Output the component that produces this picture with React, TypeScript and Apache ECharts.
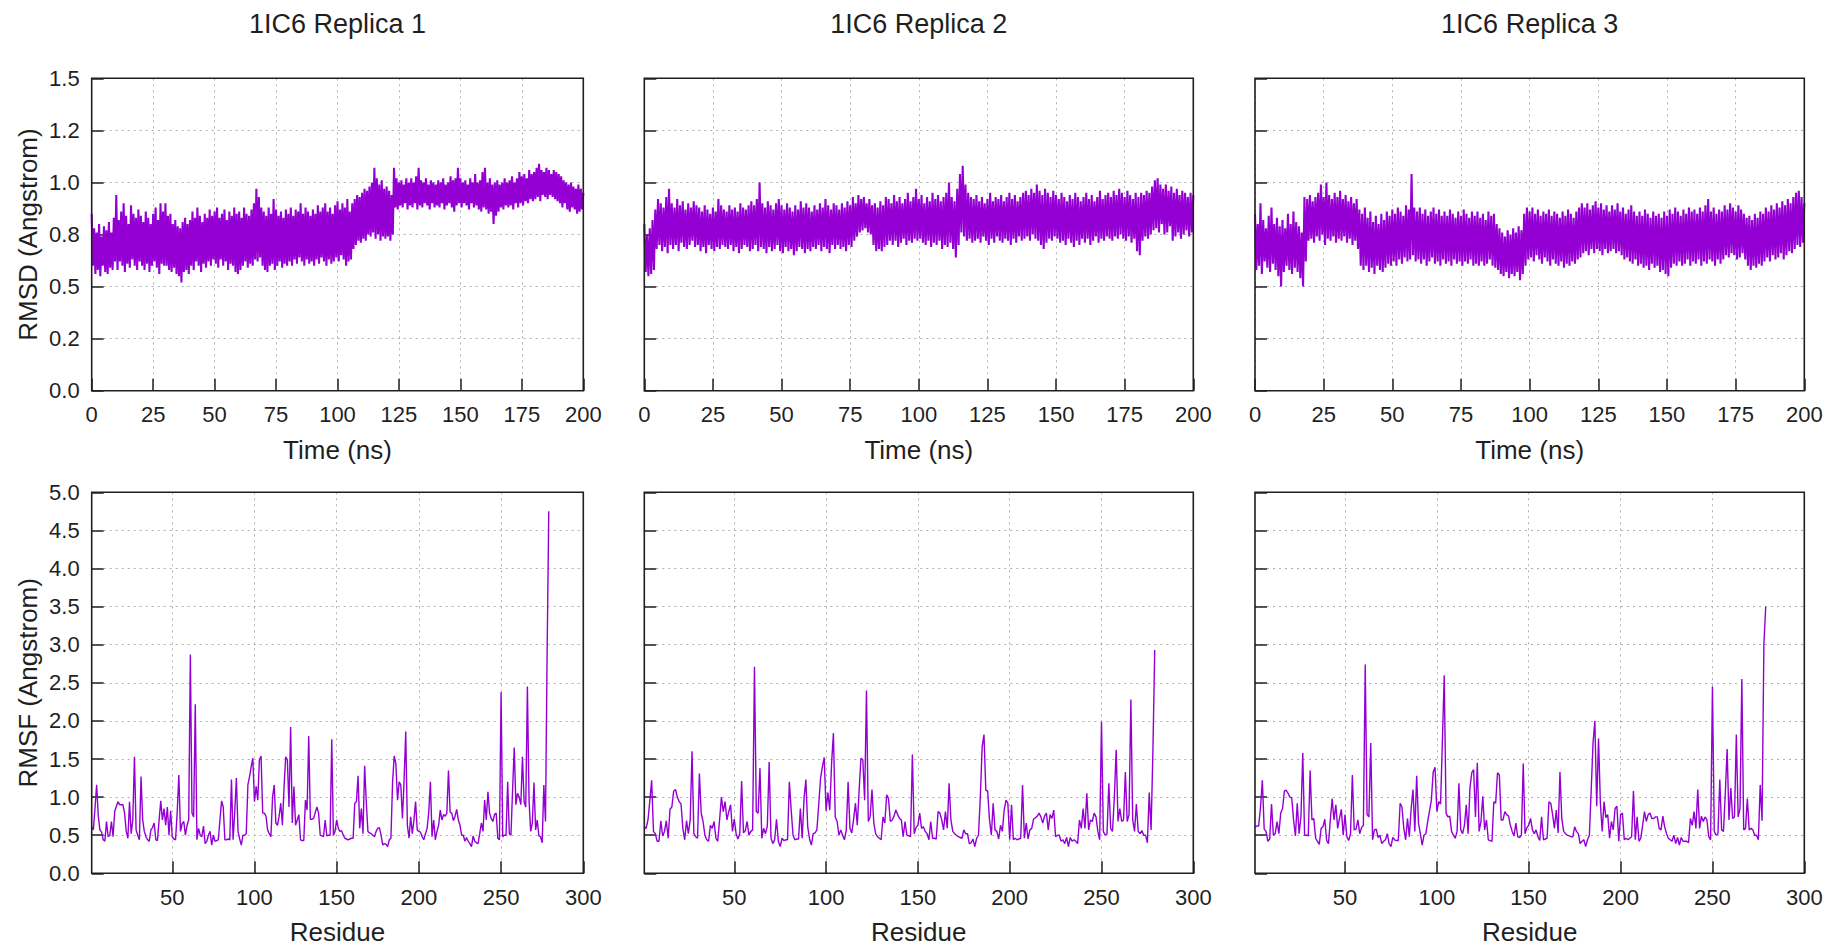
import React, { useEffect, useRef } from "react";
import * as echarts from "echarts";

// ---------- labels ----------
const REPLICAS = ["1IC6 Replica 1", "1IC6 Replica 2", "1IC6 Replica 3"];
const RMSD_Y_LABELS = ["0.0", "0.2", "0.5", "0.8", "1.0", "1.2", "1.5"];
const RMSF_X_TICKS = [50, 100, 150, 200, 250, 300];
const RMSD_Y_NAME = "RMSD (Angstrom)";
const RMSF_Y_NAME = "RMSF (Angstrom)";
const TIME_NAME = "Time (ns)";
const RES_NAME = "Residue";

// ---------- RMSD (Angstrom): per-ns upper extreme (t = 0..200) and lower extreme (t = 0.5..199.5) ----------
const rmsd1Hi = [
  0.85, 0.78, 0.76, 0.8, 0.74, 0.79, 0.77, 0.81, 0.76, 0.83,
  0.94, 0.82, 0.86, 0.9, 0.84, 0.8, 0.89, 0.85, 0.83, 0.87,
  0.84, 0.81, 0.86, 0.83, 0.8, 0.85, 0.88, 0.82, 0.9, 0.86,
  0.9, 0.84, 0.85, 0.8, 0.82, 0.79, 0.78, 0.81, 0.83, 0.8,
  0.82, 0.86, 0.83, 0.88, 0.84, 0.81, 0.85, 0.83, 0.87, 0.84,
  0.86, 0.88, 0.83, 0.85, 0.87, 0.82, 0.86, 0.84, 0.88, 0.85,
  0.86, 0.83, 0.88, 0.85, 0.84, 0.87, 0.9, 0.97, 0.93, 0.88,
  0.86, 0.84, 0.88, 0.85, 0.92, 0.87, 0.84, 0.86, 0.83, 0.87,
  0.85, 0.88, 0.84, 0.87, 0.86, 0.9, 0.85, 0.88, 0.86, 0.84,
  0.87, 0.85, 0.89, 0.86, 0.88, 0.9, 0.86, 0.88, 0.85, 0.89,
  0.91, 0.87, 0.9, 0.88, 0.92, 0.86, 0.9, 0.92, 0.94, 0.93,
  0.95, 0.97, 0.96, 0.98, 1.0, 1.07, 1.02, 0.99, 1.01, 0.97,
  0.98, 0.96, 0.94, 1.07, 1.02, 1.0, 1.01, 0.99, 1.02, 1.0,
  1.02, 1.0, 1.03, 1.07, 1.01, 1.0, 1.02, 0.99, 1.01, 1.0,
  0.99, 1.01, 1.0, 1.02, 0.99, 1.0, 1.03, 1.01, 1.02, 1.07,
  1.02, 1.0, 1.01, 0.99, 1.02, 1.0, 1.04, 1.0, 1.01, 1.05,
  1.07, 1.0, 1.02, 0.99, 1.0, 1.01, 0.99, 1.0, 1.02, 1.0,
  1.01, 1.03, 1.0, 1.02, 1.05, 1.03, 1.04, 1.02, 1.06, 1.04,
  1.05, 1.07, 1.09, 1.06, 1.05, 1.07, 1.06, 1.04, 1.06, 1.05,
  1.04, 1.03, 1.01, 1.0, 0.99, 1.0, 0.98, 0.97, 0.99, 0.97, 0.95,
];
const rmsd1Lo = [
  0.6, 0.56, 0.58, 0.55, 0.6, 0.57, 0.56, 0.59, 0.58, 0.62,
  0.58, 0.62, 0.6, 0.57, 0.61, 0.59, 0.63, 0.6, 0.58, 0.62,
  0.6, 0.58, 0.61, 0.57, 0.6, 0.62, 0.59, 0.56, 0.61, 0.6,
  0.6, 0.58, 0.57, 0.59, 0.56, 0.55, 0.52, 0.57, 0.58, 0.56,
  0.6, 0.58, 0.62, 0.6, 0.57, 0.61, 0.59, 0.62, 0.6, 0.63,
  0.61, 0.59, 0.63, 0.6, 0.62, 0.58, 0.61, 0.6, 0.57, 0.56,
  0.58, 0.6, 0.62, 0.59, 0.61, 0.6, 0.63, 0.62, 0.64, 0.6,
  0.58, 0.57, 0.6, 0.61, 0.58, 0.6, 0.62, 0.59, 0.61, 0.6,
  0.62, 0.6, 0.63, 0.61, 0.64, 0.62, 0.6, 0.63, 0.61, 0.62,
  0.6, 0.63, 0.61, 0.64, 0.62, 0.6, 0.63, 0.61, 0.62, 0.64,
  0.62, 0.65, 0.63, 0.6, 0.62, 0.63, 0.68, 0.7, 0.72, 0.71,
  0.73, 0.72, 0.75, 0.74, 0.76, 0.73, 0.75, 0.72, 0.74, 0.73,
  0.74, 0.72, 0.75, 0.88, 0.87, 0.89, 0.88, 0.9, 0.87, 0.89,
  0.88, 0.9, 0.87, 0.89, 0.88, 0.9, 0.89, 0.87, 0.9, 0.88,
  0.89, 0.88, 0.9, 0.87, 0.89, 0.9, 0.88, 0.86, 0.89, 0.9,
  0.88, 0.9, 0.89, 0.87, 0.9, 0.88, 0.89, 0.87, 0.86, 0.88,
  0.87, 0.85, 0.86, 0.8, 0.84, 0.86, 0.88, 0.87, 0.89, 0.88,
  0.89, 0.87, 0.9, 0.88, 0.9, 0.89, 0.91, 0.9, 0.92, 0.91,
  0.92, 0.93, 0.91, 0.94, 0.93, 0.92, 0.94, 0.93, 0.92, 0.91,
  0.9, 0.88, 0.9, 0.87, 0.86, 0.88, 0.87, 0.85, 0.86, 0.87,
];
const rmsd2Hi = [
  0.8, 0.75, 0.78, 0.82, 0.87, 0.92, 0.9, 0.88, 0.93, 0.97,
  0.9, 0.88, 0.92, 0.89, 0.91, 0.87, 0.9, 0.88, 0.91, 0.89,
  0.88, 0.86, 0.89, 0.87, 0.85, 0.88, 0.86, 0.92, 0.89, 0.87,
  0.86, 0.89, 0.87, 0.88, 0.86, 0.9, 0.88, 0.87, 0.89, 0.91,
  0.89, 0.92, 1.0, 0.9, 0.88, 0.91, 0.89, 0.87, 0.9, 0.92,
  0.89, 0.87, 0.9, 0.88, 0.86, 0.89, 0.87, 0.91, 0.88, 0.9,
  0.88, 0.86, 0.89, 0.87, 0.9, 0.88, 0.92, 0.89, 0.87, 0.9,
  0.89, 0.87, 0.9, 0.88, 0.91, 0.89, 0.93, 0.9, 0.94, 0.92,
  0.93, 0.9, 0.92, 0.89, 0.9, 0.88, 0.91, 0.89, 0.93, 0.92,
  0.9, 0.94, 0.91, 0.93, 0.9, 0.92, 0.95, 0.91, 0.93, 0.97,
  0.92, 0.94, 0.9, 0.93, 0.91, 0.95, 0.92, 0.94, 0.91, 0.93,
  0.95, 1.0, 0.93, 0.91, 0.97, 1.04, 1.08, 0.99, 0.95, 0.93,
  0.92, 0.94, 0.91, 0.93, 0.9, 0.92, 0.95, 0.91, 0.93, 0.92,
  0.94, 0.91, 0.93, 0.95, 0.92, 0.94, 0.91, 0.93, 0.95, 0.96,
  0.94, 0.97, 0.95, 0.99, 0.96, 0.94, 0.97, 0.95, 0.93, 0.96,
  0.94, 0.92, 0.95, 0.93, 0.91, 0.94, 0.92, 0.95, 0.93, 0.91,
  0.93, 0.95, 0.92, 0.94, 0.91, 0.93, 0.96, 0.92, 0.94, 0.95,
  0.93, 0.96, 0.94, 0.97, 0.95, 0.93, 0.96, 0.94, 0.92, 0.95,
  0.93, 0.95, 0.94, 0.96, 0.95, 0.98, 1.01, 1.02, 0.99, 0.97,
  0.99, 0.96, 0.98, 0.95, 0.97, 0.94, 0.96, 0.95, 0.93, 0.95, 0.94,
];
const rmsd2Lo = [
  0.57, 0.55, 0.56, 0.58, 0.68, 0.7, 0.67, 0.69, 0.66, 0.7,
  0.68, 0.7, 0.67, 0.71, 0.69, 0.68, 0.7, 0.72, 0.69, 0.7,
  0.67, 0.69, 0.66, 0.7, 0.68, 0.67, 0.69, 0.68, 0.7, 0.69,
  0.68, 0.7, 0.67, 0.69, 0.66, 0.68, 0.7, 0.69, 0.67, 0.68,
  0.7, 0.67, 0.69, 0.68, 0.66, 0.69, 0.67, 0.68, 0.7, 0.67,
  0.66, 0.69, 0.67, 0.68, 0.65, 0.67, 0.69, 0.68, 0.66, 0.68,
  0.67, 0.69, 0.68, 0.7, 0.67, 0.69, 0.68, 0.66, 0.7, 0.68,
  0.7, 0.68, 0.69, 0.67, 0.7, 0.69, 0.72, 0.74, 0.76, 0.77,
  0.78, 0.76, 0.75, 0.7, 0.67, 0.68, 0.67, 0.69, 0.7, 0.72,
  0.7, 0.72, 0.69, 0.71, 0.73, 0.7, 0.72, 0.71, 0.73, 0.72,
  0.73, 0.71, 0.7, 0.72, 0.69, 0.71, 0.7, 0.72, 0.68, 0.7,
  0.69, 0.71, 0.68, 0.64, 0.7, 0.76, 0.74, 0.72, 0.73, 0.71,
  0.72, 0.73, 0.71, 0.74, 0.72, 0.7, 0.73, 0.71, 0.74, 0.72,
  0.71, 0.73, 0.72, 0.7, 0.73, 0.71, 0.74, 0.72, 0.73, 0.74,
  0.72, 0.75, 0.73, 0.72, 0.7, 0.68, 0.71, 0.73, 0.72, 0.74,
  0.73, 0.71, 0.72, 0.7, 0.73, 0.71, 0.69, 0.72, 0.7, 0.73,
  0.71, 0.73, 0.7, 0.72, 0.74, 0.71, 0.73, 0.72, 0.74, 0.73,
  0.72, 0.74, 0.73, 0.75, 0.73, 0.72, 0.74, 0.71, 0.73, 0.67,
  0.65, 0.72, 0.74, 0.73, 0.75, 0.77, 0.78, 0.76, 0.8, 0.75,
  0.76, 0.79, 0.72, 0.74, 0.76, 0.73, 0.75, 0.77, 0.74, 0.76,
];
const rmsd3Hi = [
  0.85, 0.8, 0.9, 0.82, 0.78, 0.84, 0.88, 0.8, 0.83, 0.79,
  0.82, 0.78, 0.85, 0.8, 0.86, 0.81, 0.79, 0.76, 0.93, 0.92,
  0.94, 0.91, 0.93, 0.95, 0.99, 0.93, 1.0, 0.94, 0.92, 0.95,
  0.93, 0.96, 0.92, 0.94, 0.91, 0.93, 0.9, 0.92, 0.87, 0.85,
  0.88, 0.83, 0.86, 0.81, 0.84, 0.8, 0.85, 0.82, 0.86, 0.84,
  0.87, 0.85, 0.88, 0.86, 0.84, 0.89, 0.87, 1.04, 0.88, 0.86,
  0.88, 0.85, 0.87, 0.84, 0.86, 0.88, 0.85, 0.87, 0.84, 0.86,
  0.84, 0.87, 0.85, 0.83, 0.86, 0.84, 0.87, 0.85, 0.83, 0.86,
  0.84, 0.86, 0.83, 0.85, 0.82, 0.86, 0.84, 0.85, 0.8, 0.78,
  0.76, 0.74, 0.77, 0.75, 0.78, 0.76, 0.79, 0.77, 0.85, 0.88,
  0.86, 0.88, 0.85, 0.87, 0.84, 0.86, 0.85, 0.87, 0.84, 0.86,
  0.85, 0.83, 0.86, 0.84, 0.87, 0.85, 0.83, 0.86, 0.88, 0.9,
  0.88, 0.9, 0.87, 0.89, 0.91, 0.88, 0.9, 0.87, 0.89, 0.86,
  0.89, 0.87, 0.9, 0.86, 0.88, 0.85, 0.87, 0.89, 0.86, 0.84,
  0.86, 0.84, 0.87, 0.85, 0.83, 0.86, 0.84, 0.85, 0.83, 0.86,
  0.84, 0.87, 0.85, 0.88, 0.86, 0.84, 0.87, 0.85, 0.88, 0.86,
  0.87, 0.85, 0.88, 0.86, 0.89, 0.92, 0.86, 0.88, 0.85, 0.87,
  0.86, 0.89, 0.87, 0.9, 0.88, 0.86, 0.89, 0.87, 0.85, 0.83,
  0.84, 0.82, 0.85, 0.83, 0.86, 0.85, 0.88, 0.86, 0.89, 0.87,
  0.9, 0.88, 0.91, 0.89, 0.92, 0.9, 0.93, 0.95, 0.96, 0.93, 0.9,
];
const rmsd3Lo = [
  0.58, 0.6, 0.56, 0.62, 0.59, 0.57, 0.61, 0.58, 0.55, 0.5,
  0.57, 0.6, 0.58, 0.56, 0.59, 0.57, 0.54, 0.5, 0.62, 0.72,
  0.73, 0.71, 0.74, 0.72, 0.75, 0.7, 0.73, 0.72, 0.74, 0.71,
  0.73, 0.72, 0.74, 0.71, 0.73, 0.7, 0.72, 0.68, 0.6, 0.58,
  0.6, 0.57, 0.59, 0.56, 0.6, 0.58, 0.57, 0.59, 0.61, 0.6,
  0.62, 0.6, 0.63, 0.61, 0.64, 0.62, 0.63, 0.65, 0.62, 0.63,
  0.61, 0.63, 0.6, 0.62, 0.64, 0.61, 0.62, 0.6, 0.63, 0.61,
  0.62, 0.6, 0.63, 0.61, 0.62, 0.6, 0.62, 0.61, 0.63, 0.6,
  0.61, 0.6, 0.62, 0.6, 0.61, 0.63, 0.6, 0.59, 0.58, 0.56,
  0.55, 0.57, 0.54, 0.56, 0.55, 0.57, 0.53, 0.56, 0.6, 0.63,
  0.64, 0.62, 0.65, 0.63, 0.61, 0.64, 0.62, 0.6, 0.63, 0.61,
  0.6, 0.62, 0.59, 0.61, 0.6, 0.62, 0.61, 0.63, 0.64, 0.66,
  0.67, 0.65, 0.68, 0.66, 0.68, 0.67, 0.65, 0.68, 0.66, 0.67,
  0.68, 0.66, 0.67, 0.65, 0.63, 0.64, 0.62, 0.61, 0.63, 0.6,
  0.61, 0.59, 0.6, 0.58, 0.61, 0.59, 0.6, 0.57, 0.58, 0.56,
  0.55, 0.59, 0.61, 0.6, 0.62, 0.6, 0.61, 0.63, 0.6, 0.62,
  0.61, 0.63, 0.6, 0.62, 0.61, 0.63, 0.62, 0.6, 0.63, 0.61,
  0.63, 0.65, 0.64, 0.66, 0.65, 0.63, 0.64, 0.66, 0.63, 0.6,
  0.58, 0.6, 0.59, 0.61, 0.6, 0.62, 0.64, 0.62, 0.65, 0.63,
  0.64, 0.66, 0.63, 0.65, 0.67, 0.66, 0.68, 0.7, 0.69, 0.71,
];

// ---------- RMSF (Angstrom) per residue 1..279 ----------
const rmsf1 = [
  0.61, 0.57, 0.85, 1.16, 0.75, 0.57, 0.54, 0.44, 0.42, 0.68,
  0.48, 0.5, 0.68, 0.48, 0.81, 0.88, 0.94, 0.9, 0.9, 0.9,
  0.79, 0.55, 0.46, 0.94, 0.52, 0.7, 1.53, 0.57, 0.5, 0.44,
  1.27, 0.7, 0.55, 0.48, 0.44, 0.42, 0.57, 0.6, 0.66, 0.44,
  0.43, 0.7, 0.95, 0.7, 0.85, 0.63, 0.87, 0.5, 0.82, 0.48,
  0.45, 0.44, 0.8, 1.29, 0.55, 0.65, 0.68, 0.5, 0.63, 0.7,
  2.87, 0.79, 0.74, 2.22, 0.44, 0.59, 0.5, 0.48, 0.62, 0.39,
  0.42, 0.5, 0.55, 0.37, 0.5, 0.42, 0.43, 0.44, 0.7, 0.95,
  0.87, 0.44, 0.44, 0.45, 0.44, 1.23, 0.44, 0.8, 1.25, 0.55,
  0.45, 0.37, 0.5, 0.5, 0.52, 1.16, 1.27, 1.4, 1.51, 0.94,
  1.14, 0.96, 1.49, 1.54, 0.79, 0.79, 0.75, 0.57, 0.52, 0.48,
  1.0, 1.16, 0.66, 0.63, 0.75, 0.92, 0.63, 1.14, 1.53, 1.49,
  0.87, 1.92, 0.66, 1.14, 0.63, 0.7, 0.77, 0.44, 0.43, 0.43,
  0.96, 0.83, 1.8, 0.71, 0.71, 0.72, 0.8, 0.87, 0.79, 0.5,
  0.49, 0.48, 0.7, 0.49, 0.5, 0.5, 1.76, 0.5, 0.55, 0.7,
  0.59, 0.55, 0.56, 0.5, 0.46, 0.45, 0.44, 0.45, 0.46, 0.46,
  0.92, 0.94, 1.28, 0.59, 0.85, 0.52, 1.41, 0.94, 0.55, 0.53,
  0.52, 0.5, 0.48, 0.55, 0.59, 0.6, 0.5, 0.37, 0.39, 0.38,
  0.35, 0.44, 0.46, 1.2, 1.54, 1.44, 0.96, 1.2, 1.16, 0.72,
  1.22, 1.86, 0.63, 0.46, 0.74, 0.52, 0.7, 0.94, 0.57, 0.55,
  0.54, 0.48, 0.44, 0.52, 0.59, 0.8, 1.2, 0.48, 0.7, 0.44,
  0.55, 0.63, 0.83, 0.7, 0.77, 0.75, 0.79, 1.35, 0.8, 0.79,
  0.69, 0.75, 0.84, 0.7, 0.63, 0.5, 0.5, 0.42, 0.47, 0.42,
  0.39, 0.35, 0.49, 0.42, 0.4, 0.39, 0.52, 0.66, 0.55, 0.96,
  0.7, 1.07, 0.79, 0.72, 0.68, 0.77, 0.79, 0.46, 0.44, 2.38,
  0.48, 0.5, 0.5, 1.2, 0.52, 0.5, 1.1, 1.65, 0.9, 1.05,
  1.0, 0.9, 1.53, 0.94, 0.87, 2.45, 0.96, 0.55, 0.66, 1.19,
  0.57, 0.7, 0.49, 0.48, 0.4, 1.16, 0.68, 2.9, 4.75,
];
const rmsf2 = [
  0.61, 0.59, 0.7, 0.95, 1.22, 0.55, 0.52, 0.42, 0.42, 0.69,
  0.49, 0.55, 0.69, 0.46, 0.84, 0.87, 1.08, 1.1, 1.0, 0.94,
  0.91, 0.59, 0.44, 0.69, 0.52, 0.7, 1.6, 0.52, 0.48, 0.46,
  1.31, 0.79, 0.68, 0.5, 0.44, 0.42, 0.63, 0.59, 0.68, 0.46,
  0.42, 0.7, 1.0, 0.81, 0.94, 0.7, 0.81, 0.9, 0.55, 0.71,
  0.52, 0.45, 0.52, 1.21, 0.53, 0.56, 0.68, 0.5, 0.55, 0.57,
  2.71, 0.81, 0.79, 1.38, 0.46, 0.59, 0.52, 0.62, 1.46, 0.46,
  0.39, 0.44, 0.71, 0.42, 0.35, 0.46, 0.43, 0.44, 0.44, 1.2,
  0.83, 0.5, 0.44, 0.45, 0.45, 0.85, 0.46, 0.98, 1.23, 0.61,
  0.45, 0.37, 0.52, 0.53, 0.57, 0.9, 1.25, 1.4, 1.52, 0.82,
  1.06, 0.83, 1.44, 1.84, 0.74, 0.68, 0.5, 0.57, 0.5, 0.44,
  0.57, 1.2, 0.59, 0.53, 0.71, 0.92, 0.63, 1.09, 1.51, 1.49,
  0.96, 2.4, 0.68, 0.74, 1.1, 0.66, 0.52, 0.48, 0.46, 0.44,
  0.74, 0.66, 1.03, 0.98, 0.68, 0.7, 0.75, 0.83, 0.77, 0.72,
  0.7, 0.48, 0.68, 0.5, 0.49, 0.48, 1.56, 0.52, 0.6, 0.63,
  0.79, 0.59, 0.61, 0.55, 0.52, 0.44, 0.68, 0.46, 0.46, 0.45,
  0.81, 0.79, 0.7, 0.57, 0.81, 0.59, 1.18, 0.7, 0.55, 0.52,
  0.5, 0.48, 0.47, 0.46, 0.57, 0.52, 0.52, 0.39, 0.4, 0.45,
  0.35, 0.46, 0.5, 1.0, 1.66, 1.82, 1.09, 1.08, 0.7, 0.5,
  0.92, 0.57, 0.55, 0.45, 0.63, 0.55, 0.83, 0.96, 0.92, 0.44,
  0.9, 0.44, 0.46, 0.44, 0.45, 0.46, 1.16, 0.46, 0.66, 0.45,
  0.57, 0.59, 0.71, 0.73, 0.75, 0.79, 0.74, 0.66, 0.75, 0.79,
  0.57, 0.77, 0.72, 0.83, 0.48, 0.5, 0.5, 0.42, 0.44, 0.39,
  0.47, 0.35, 0.47, 0.42, 0.44, 0.42, 0.39, 0.7, 0.59, 0.85,
  0.59, 1.05, 0.57, 0.7, 0.68, 0.79, 0.74, 0.55, 0.44, 1.99,
  0.55, 0.5, 0.52, 1.18, 0.59, 0.55, 1.0, 1.62, 0.68, 0.85,
  0.68, 0.7, 1.33, 0.68, 0.77, 2.28, 0.7, 0.55, 0.91, 0.55,
  0.52, 0.56, 0.5, 0.5, 0.4, 1.06, 0.57, 1.6, 2.93,
];
const rmsf3 = [
  0.61, 0.62, 0.62, 0.87, 1.22, 0.58, 0.55, 0.42, 0.45, 0.91,
  0.5, 0.52, 0.68, 0.52, 0.79, 0.85, 1.08, 1.09, 1.05, 1.0,
  0.99, 0.7, 0.49, 0.92, 0.52, 0.74, 1.58, 0.5, 0.5, 0.49,
  1.35, 0.7, 0.72, 0.46, 0.42, 0.38, 0.59, 0.61, 0.71, 0.43,
  0.39, 0.7, 0.98, 0.7, 0.9, 0.59, 0.72, 0.84, 0.5, 0.77,
  0.48, 0.43, 0.52, 1.29, 0.57, 0.58, 0.7, 0.52, 0.6, 0.63,
  2.74, 0.77, 0.74, 1.71, 0.44, 0.57, 0.58, 0.47, 0.5, 0.39,
  0.42, 0.44, 0.52, 0.39, 0.35, 0.47, 0.44, 0.43, 0.43, 0.92,
  0.87, 0.59, 0.44, 0.72, 0.48, 0.85, 1.1, 0.55, 1.28, 0.66,
  0.52, 0.37, 0.5, 0.52, 0.68, 0.82, 0.96, 1.33, 1.39, 0.81,
  0.94, 0.91, 1.73, 2.6, 0.79, 0.74, 0.75, 0.55, 0.5, 0.46,
  0.55, 1.18, 0.57, 0.52, 0.63, 0.9, 0.52, 1.12, 1.32, 1.36,
  0.74, 1.45, 0.55, 0.68, 1.01, 0.57, 0.7, 0.44, 0.43, 0.42,
  0.94, 0.92, 1.32, 1.29, 0.7, 0.7, 0.81, 0.77, 0.75, 0.63,
  0.55, 0.49, 0.66, 0.48, 0.47, 0.5, 1.44, 0.52, 0.6, 0.63,
  0.72, 0.57, 0.52, 0.57, 0.48, 0.43, 0.74, 0.44, 0.45, 0.46,
  0.94, 0.92, 0.77, 0.59, 0.83, 0.53, 1.33, 0.72, 0.55, 0.52,
  0.5, 0.49, 0.48, 0.48, 0.61, 0.55, 0.52, 0.39, 0.42, 0.44,
  0.35, 0.44, 0.5, 1.09, 1.71, 2.0, 0.88, 1.77, 0.92, 0.55,
  0.94, 0.73, 0.77, 0.46, 0.68, 0.57, 0.85, 0.88, 0.42, 0.77,
  0.79, 0.44, 0.46, 0.44, 0.46, 0.48, 1.08, 0.44, 0.74, 0.42,
  0.46, 0.63, 0.81, 0.68, 0.77, 0.79, 0.72, 0.72, 0.74, 0.74,
  0.59, 0.57, 0.75, 0.61, 0.52, 0.46, 0.44, 0.42, 0.5, 0.39,
  0.47, 0.37, 0.47, 0.42, 0.42, 0.42, 0.4, 0.72, 0.63, 0.81,
  0.59, 1.1, 0.59, 0.75, 0.68, 0.74, 0.7, 0.48, 0.44, 2.45,
  0.55, 0.5, 0.52, 1.23, 0.57, 0.55, 1.05, 1.63, 0.7, 1.12,
  0.72, 0.74, 1.82, 0.74, 0.85, 2.55, 0.57, 0.59, 0.98, 0.57,
  0.59, 0.57, 0.5, 0.5, 0.44, 1.16, 0.69, 3.0, 3.5,
];

// ---------- layout (px) ----------
const FONT = "'Liberation Sans', Arial, sans-serif";
const INK = "#1f1f1f";
const PURPLE = "#9400d3";
const COLS = [
  { left: 91.7, width: 491.6 },
  { left: 644.3, width: 549 },
  { left: 1255, width: 549.3 },
];
const ROWS = [
  { top: 78.3, height: 312.4 },
  { top: 492.3, height: 381 },
];

function zigzag(hi: number[], lo: number[]) {
  const out: number[][] = [];
  for (let i = 0; i < hi.length; i++) {
    out.push([i, hi[i]]);
    if (i < lo.length) out.push([i + 0.5, lo[i]]);
  }
  return out;
}

function buildOption() {
  const rmsdHi = [rmsd1Hi, rmsd2Hi, rmsd3Hi];
  const rmsdLo = [rmsd1Lo, rmsd2Lo, rmsd3Lo];
  const rmsf = [rmsf1, rmsf2, rmsf3];

  const grid: any[] = [];
  const xAxis: any[] = [];
  const yAxis: any[] = [];
  const series: any[] = [];
  const frames: any[] = [];

  const tick = { show: true, inside: true, length: 12, lineStyle: { color: INK, width: 1.5 } };
  const split = { show: true, lineStyle: { color: "#b0b0b0", width: 1, type: [2, 4] } };
  const label = { fontFamily: FONT, fontSize: 22, color: INK };
  const nameStyle = { fontFamily: FONT, fontSize: 26, color: INK };

  for (let r = 0; r < 2; r++) {
    for (let c = 0; c < 3; c++) {
      const g = r * 3 + c;
      grid.push({
        left: COLS[c].left,
        top: ROWS[r].top,
        width: COLS[c].width,
        height: ROWS[r].height,
        show: false,
      });
      frames.push({
        type: "rect",
        z: 100,
        silent: true,
        shape: { x: COLS[c].left, y: ROWS[r].top, width: COLS[c].width, height: ROWS[r].height },
        style: { fill: "none", stroke: INK, lineWidth: 1.6 },
      });
      if (r === 0) {
        xAxis.push({
          type: "value",
          gridIndex: g,
          min: 0,
          max: 200,
          interval: 25,
          axisLine: { show: false },
          axisTick: tick,
          splitLine: split,
          axisLabel: { ...label, margin: 13, showMinLabel: true, showMaxLabel: true },
          name: TIME_NAME,
          nameLocation: "middle",
          nameGap: 46,
          nameTextStyle: nameStyle,
        });
        yAxis.push({
          type: "value",
          gridIndex: g,
          min: 0,
          max: 1.5,
          interval: 0.25,
          axisLine: { show: false },
          axisTick: tick,
          splitLine: split,
          axisLabel: {
            ...label,
            show: c === 0,
            margin: 12,
            formatter: (v: number) => RMSD_Y_LABELS[Math.round(v / 0.25)],
          },
          name: c === 0 ? RMSD_Y_NAME : "",
          nameLocation: "middle",
          nameGap: 51,
          nameTextStyle: nameStyle,
        });
        series.push({
          type: "line",
          xAxisIndex: g,
          yAxisIndex: g,
          data: zigzag(rmsdHi[c], rmsdLo[c]),
          showSymbol: false,
          symbol: "none",
          lineStyle: { color: PURPLE, width: 2.1, join: "bevel" },
          itemStyle: { color: PURPLE },
          silent: true,
        });
      } else {
        xAxis.push({
          type: "value",
          gridIndex: g,
          min: 1,
          max: 300,
          axisLine: { show: false },
          axisTick: { ...tick, customValues: RMSF_X_TICKS },
          splitLine: split,
          axisLabel: { ...label, margin: 13, customValues: RMSF_X_TICKS },
          name: RES_NAME,
          nameLocation: "middle",
          nameGap: 46,
          nameTextStyle: nameStyle,
        });
        yAxis.push({
          type: "value",
          gridIndex: g,
          min: 0,
          max: 5,
          interval: 0.5,
          axisLine: { show: false },
          axisTick: tick,
          splitLine: split,
          axisLabel: {
            ...label,
            show: c === 0,
            margin: 12,
            formatter: (v: number) => v.toFixed(1),
          },
          name: c === 0 ? RMSF_Y_NAME : "",
          nameLocation: "middle",
          nameGap: 51,
          nameTextStyle: nameStyle,
        });
        series.push({
          type: "line",
          xAxisIndex: g,
          yAxisIndex: g,
          data: rmsf[c].map((v, i) => [i + 1, v]),
          showSymbol: false,
          symbol: "none",
          lineStyle: { color: PURPLE, width: 1.4 },
          itemStyle: { color: PURPLE },
          silent: true,
        });
      }
    }
  }

  const title = REPLICAS.map((t, c) => ({
    text: t,
    left: COLS[c].left + COLS[c].width / 2,
    top: 10,
    padding: 0,
    textAlign: "center",
    textStyle: { fontFamily: FONT, fontSize: 27, fontWeight: "normal", color: INK },
  }));

  return {
    animation: false,
    backgroundColor: "#ffffff",
    title,
    grid,
    xAxis,
    yAxis,
    series,
    graphic: frames,
  };
}

export default function App() {
  const ref = useRef<HTMLDivElement | null>(null);
  useEffect(() => {
    if (!ref.current) return;
    const chart = echarts.init(ref.current, undefined, { renderer: "svg" });
    chart.setOption(buildOption() as any);
    return () => chart.dispose();
  }, []);
  return (
    <div
      ref={ref}
      style={{ position: "fixed", left: 0, top: 0, width: 1845, height: 948, background: "#fff" }}
    />
  );
}
